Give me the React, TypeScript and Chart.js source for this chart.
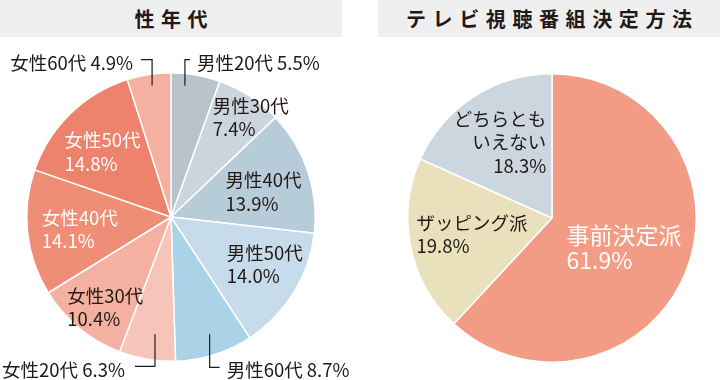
import React, { useEffect, useRef } from "react";
import { Chart, registerables } from "chart.js";

Chart.register(...registerables);

// ---- Data ----
const leftTitle = "性年代";
const leftCategories = [
  "男性20代", "男性30代", "男性40代", "男性50代", "男性60代",
  "女性20代", "女性30代", "女性40代", "女性50代", "女性60代",
];
const leftValues = [5.5, 7.4, 13.9, 14.0, 8.7, 6.3, 10.4, 14.1, 14.8, 4.9];
const leftColors = [
  "#b9c3cb", "#cbd5dd", "#b7ccd9", "#c6dcea", "#abd3e7",
  "#f7c4ba", "#f4b0a0", "#ef8e77", "#ed836c", "#f4b1a2",
];

const rightTitle = "テレビ視聴番組決定方法";
const rightCategories = ["事前決定派", "ザッピング派", "どちらともいえない"];
const rightLabelLines = [["事前決定派"], ["ザッピング派"], ["どちらとも", "いえない"]];
const rightValues = [61.9, 19.8, 18.3];
const rightColors = ["#f29b85", "#e9e1bc", "#cbd6de"];

const TEXT = "#231815";
const FONT = '"Noto Sans CJK JP", "Noto Sans", sans-serif';

type LabelSpec = {
  frac: number;
  dx: number;
  dy: number;
  align: "left" | "right";
  inline?: boolean;
  color?: string;
  size?: number;
  leader?: [number, number][];
};

const leftLabelSpecs: LabelSpec[] = [
  { frac: 0.9, dx: 3.6, dy: -26.4, align: "left", inline: true, leader: [[-8.4, -3.4], [-8.4, -29.4], [-3.4, -29.4]] },
  { frac: 0.65, dx: -9.5, dy: -33, align: "left" },
  { frac: 0.65, dx: -34.4, dy: -7, align: "left" },
  { frac: 0.65, dx: -24, dy: -13.5, align: "left" },
  { frac: 0.9, dx: 16.7, dy: 29.5, align: "left", inline: true, leader: [[-0.3, -6.5], [-0.3, 26.5], [9.7, 26.5]] },
  { frac: 0.9, dx: -24.5, dy: 25.3, align: "right", inline: true, leader: [[5.5, -10.7], [5.5, 21.3], [-14.5, 21.3]] },
  { frac: 0.65, dx: -44, dy: 6.3, align: "left" },
  { frac: 0.65, dx: -36, dy: -9.4, align: "left", color: "#ffffff" },
  { frac: 0.65, dx: -41, dy: -9.5, align: "left", color: "#ffffff" },
  { frac: 0.9, dx: -18, dy: -26, align: "right", inline: true, leader: [[1, -3.1], [1, -29.1], [-10, -29.1]] },
];

const rightLabelSpecs: LabelSpec[] = [
  { frac: 0.65, dx: -72.7, dy: -17.4, align: "left", color: "#ffffff", size: 23 },
  { frac: 0.65, dx: -43.6, dy: -13.8, align: "left" },
  { frac: 0.65, dx: 45.2, dy: -20.8, align: "right" },
];

function makeLabelPlugin(lines: string[][], values: number[], specs: LabelSpec[]) {
  return {
    id: "sliceLabels",
    afterDatasetsDraw(chart: any) {
      const ctx = chart.ctx;
      const meta = chart.getDatasetMeta(0);
      meta.data.forEach((arc: any, i: number) => {
        const spec = specs[i];
        const p = arc.getProps(["x", "y", "startAngle", "endAngle", "outerRadius"], true);
        const mid = (p.startAngle + p.endAngle) / 2;
        const ax = p.x + Math.cos(mid) * p.outerRadius * spec.frac;
        const ay = p.y + Math.sin(mid) * p.outerRadius * spec.frac;
        ctx.save();
        if (spec.leader) {
          ctx.strokeStyle = TEXT;
          ctx.lineWidth = 1.2;
          ctx.beginPath();
          spec.leader.forEach(([lx, ly], k) => {
            if (k === 0) ctx.moveTo(ax + lx, ay + ly);
            else ctx.lineTo(ax + lx, ay + ly);
          });
          ctx.stroke();
        }
        const size = spec.size || 18.5;
        ctx.font = `400 ${size}px ${FONT}`;
        ctx.fillStyle = spec.color || TEXT;
        ctx.textAlign = spec.align;
        ctx.textBaseline = "middle";
        const pct = values[i].toFixed(1) + "%";
        const rows = spec.inline ? [lines[i].join("") + " " + pct] : [...lines[i], pct];
        const lh = size >= 20 ? 25 : 23.5;
        rows.forEach((t, k) => {
          ctx.fillText(t, ax + spec.dx, ay + spec.dy + k * lh);
        });
        ctx.restore();
      });
    },
  };
}

function PieChart(props: {
  categories: string[];
  lines: string[][];
  values: number[];
  colors: string[];
  specs: LabelSpec[];
  padding: { left: number; right: number; top: number; bottom: number };
}) {
  const ref = useRef<HTMLCanvasElement>(null);
  useEffect(() => {
    if (!ref.current) return;
    const chart = new Chart(ref.current, {
      type: "pie",
      data: {
        labels: props.categories,
        datasets: [
          {
            data: props.values,
            backgroundColor: props.colors,
            borderColor: "#ffffff",
            borderWidth: 1.5,
            hoverOffset: 0,
            offset: 0,
          },
        ],
      },
      options: {
        animation: false,
        responsive: false,
        devicePixelRatio: 1,
        layout: { padding: props.padding },
        plugins: {
          legend: { display: false },
          tooltip: { enabled: false },
        },
      },
      plugins: [makeLabelPlugin(props.lines, props.values, props.specs)],
    });
    return () => chart.destroy();
  }, []);
  return <canvas ref={ref} width={360} height={380} style={{ width: 360, height: 380, display: "block" }} />;
}

const bannerStyle: React.CSSProperties = {
  position: "absolute",
  top: 0,
  height: 37,
  width: 342,
  background: "#efefef",
  color: TEXT,
  fontFamily: FONT,
  fontWeight: 700,
  fontSize: 20,
  letterSpacing: 6.6,
  lineHeight: "37px",
  textAlign: "center",
  paddingLeft: 6.6,
  boxSizing: "border-box",
};

export default function App() {
  useEffect(() => {
    document.body.style.margin = "0";
  }, []);
  return (
    <div style={{ position: "relative", width: 720, height: 380, background: "#ffffff", overflow: "hidden" }}>
      <div style={{ position: "absolute", left: 0, top: 0 }}>
        <PieChart
          categories={leftCategories}
          lines={leftCategories.map((c) => [c])}
          values={leftValues}
          colors={leftColors}
          specs={leftLabelSpecs}
          padding={{ left: 26, right: 44, top: 72, bottom: 18 }}
        />
      </div>
      <div style={{ position: "absolute", left: 360, top: 0 }}>
        <PieChart
          categories={rightCategories}
          lines={rightLabelLines}
          values={rightValues}
          colors={rightColors}
          specs={rightLabelSpecs}
          padding={{ left: 47, right: 23, top: 73, bottom: 17 }}
        />
      </div>
      <div style={{ ...bannerStyle, left: 0 }}>{leftTitle}</div>
      <div style={{ ...bannerStyle, left: 378 }}>{rightTitle}</div>
    </div>
  );
}
